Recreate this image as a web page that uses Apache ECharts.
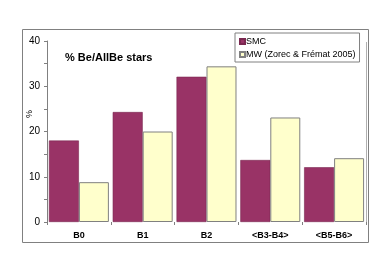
<!DOCTYPE html>
<html><head><meta charset="utf-8">
<script src="https://cdn.jsdelivr.net/npm/echarts@6/dist/echarts.min.js"></script>
<style>html,body{margin:0;padding:0;background:#fff}#c{width:392px;height:273px}</style>
</head><body><div id="c"></div>
<script>
var categories = ['B0', 'B1', 'B2', '<B3-B4>', '<B5-B6>'];
var smc = [18.0, 24.3, 32.1, 13.7, 12.1];
var mw = [8.8, 20.0, 34.4, 23.1, 14.1];
var seriesNames = ['SMC', 'MW (Zorec & Frémat 2005)'];
var yTicks = [0, 10, 20, 30, 40];

var font = 'Arial, "Liberation Sans", Helvetica, sans-serif';
var chart = echarts.init(document.getElementById('c'), null, {renderer: 'canvas'});
chart.setOption({
  animation: false,
  textStyle: {fontFamily: font},
  title: {
    text: '% Be/AllBe stars', left: 60, top: 47,
    textStyle: {fontSize: 11, fontWeight: 'bold', color: '#000', fontFamily: font}
  },
  legend: {
    orient: 'vertical', left: 235, top: 33, width: 122,
    padding: [4, 4, 3, 4], itemGap: 4,
    borderColor: '#808080', borderWidth: 1,
    itemWidth: 5, itemHeight: 5,
    icon: 'rect',
    textStyle: {fontSize: 9, color: '#000', fontFamily: font, padding: [0, 0, 0, -4]},
    data: seriesNames
  },
  grid: {left: 47, right: 26, top: 41, bottom: 51},
  xAxis: {
    type: 'category', data: categories,
    axisLine: {show: false},
    axisTick: {show: true, length: 3, lineStyle: {color: '#808080'}},
    axisLabel: {fontSize: 9, fontWeight: 'bold', color: '#000', margin: 9, fontFamily: font}
  },
  yAxis: {
    type: 'value', min: yTicks[0], max: yTicks[yTicks.length - 1], interval: 10,
    axisLine: {show: true, lineStyle: {color: '#808080'}},
    axisTick: {show: true, length: 3, lineStyle: {color: '#808080'}},
    minorTick: {show: true, splitNumber: 2, length: 3, lineStyle: {color: '#808080'}},
    splitLine: {show: false},
    axisLabel: {fontSize: 10, color: '#000', margin: 7, fontFamily: font}
  },
  series: [
    {name: seriesNames[0], type: 'bar', data: smc, barGap: '0%', barCategoryGap: '6%',
     itemStyle: {color: '#993366', borderColor: '#7a2850', borderWidth: 0.6}},
    {name: seriesNames[1], type: 'bar', data: mw,
     itemStyle: {color: '#FFFFCC', borderColor: '#808080', borderWidth: 1}}
  ],
  graphic: [
    {type: 'rect', shape: {x: 22.5, y: 29.5, width: 346, height: 213},
     style: {fill: 'none', stroke: '#808080', lineWidth: 1}, silent: true},
    {type: 'line', shape: {x1: 366.5, y1: 42, x2: 366.5, y2: 222},
     style: {stroke: '#b0b0b0', lineWidth: 1}, silent: true},
    {type: 'text', x: 30, y: 114, rotation: Math.PI / 2,
     style: {text: '%', fontSize: 9, fill: '#000', font: '9px ' + font, textAlign: 'center', textVerticalAlign: 'middle'}}
  ]
});
</script></body></html>
